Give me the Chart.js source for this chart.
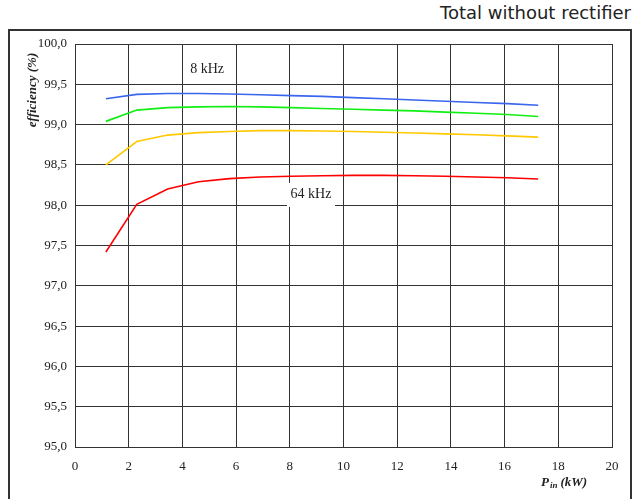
<!DOCTYPE html>
<html>
<head>
<meta charset="utf-8">
<script src="https://cdn.jsdelivr.net/npm/chart.js@4/dist/chart.umd.min.js"></script>
<style>
  html, body { margin:0; padding:0; background:#fff; }
  #wrap { position:relative; width:643px; height:499px; overflow:hidden; }
  #frame { position:absolute; left:8px; top:29px; width:624px; height:480px; border:2px solid #333; box-sizing:border-box; }
  #title { position:absolute; right:12px; top:1px; font-family:"DejaVu Sans", Verdana, sans-serif; font-size:18px; color:#222; line-height:24px; }
  canvas { position:absolute; left:0; top:0; }
</style>
</head>
<body>
<div id="wrap">
  <div id="title">Total without rectifier</div>
  <div id="frame"></div>
  <canvas id="c" width="643" height="499"></canvas>
</div>
<script>
// Data
const pinKW = [1.15, 2.3, 3.45, 4.6, 5.75, 6.9, 8.05, 9.2, 10.35, 11.5, 12.65, 13.8, 14.95, 16.1, 17.25];
const eff8kHz  = [99.32, 99.375, 99.385, 99.385, 99.38, 99.37, 99.36, 99.35, 99.335, 99.32, 99.305, 99.29, 99.275, 99.26, 99.24];
const effGreen = [99.04, 99.18, 99.21, 99.22, 99.225, 99.22, 99.21, 99.20, 99.19, 99.18, 99.17, 99.155, 99.14, 99.125, 99.10];
const effYellow= [98.50, 98.79, 98.87, 98.90, 98.915, 98.925, 98.925, 98.92, 98.915, 98.905, 98.895, 98.885, 98.875, 98.86, 98.845];
const eff64kHz = [97.42, 98.01, 98.20, 98.29, 98.33, 98.35, 98.36, 98.365, 98.37, 98.37, 98.365, 98.36, 98.35, 98.34, 98.325];
const xTicks = [0, 2, 4, 6, 8, 10, 12, 14, 16, 18, 20];
const yTicks = [95.0, 95.5, 96.0, 96.5, 97.0, 97.5, 98.0, 98.5, 99.0, 99.5, 100.0];
const labels = [
  { text: '8 kHz', x: 4.92, y: 99.69, box: false },
  { text: '64 kHz', x: 8.79, y: 98.14, box: true }
];

const toPts = (ys) => pinKW.map((x, i) => ({ x: x, y: ys[i] }));
const serif = '"Liberation Serif", "Times New Roman", serif';

const overlay = {
  id: 'overlay',
  afterDatasetsDraw(chart) {
    const { ctx, scales } = chart;
    ctx.save();
    ctx.font = '14px ' + serif;
    ctx.textAlign = 'center';
    ctx.textBaseline = 'middle';
    labels.forEach(l => {
      const px = scales.x.getPixelForValue(l.x);
      const py = scales.y.getPixelForValue(l.y);
      if (l.box) {
        const w = 48;
        ctx.fillStyle = '#fff';
        ctx.fillRect(px - w / 2, py - 11, w, 24);
      }
      ctx.fillStyle = '#222';
      ctx.fillText(l.text, px, py);
    });
    // y axis title
    ctx.save();
    ctx.translate(33, 90);
    ctx.rotate(-Math.PI / 2);
    ctx.font = 'italic bold 13px ' + serif;
    ctx.fillStyle = '#222';
    ctx.fillText('efficiency (%)', 0, 0);
    ctx.restore();
    // x axis title: P_in (kW)
    ctx.textAlign = 'left';
    ctx.textBaseline = 'alphabetic';
    ctx.fillStyle = '#222';
    let x0 = 541, yb = 486;
    ctx.font = 'italic bold 13px ' + serif;
    ctx.fillText('P', x0, yb);
    x0 += ctx.measureText('P').width + 1;
    ctx.font = 'italic bold 9px ' + serif;
    ctx.fillText('in', x0, yb + 2);
    x0 += ctx.measureText('in').width + 3;
    ctx.font = 'italic bold 13px ' + serif;
    ctx.fillText('(kW)', x0, yb);
    ctx.restore();
  }
};

const ds = (data, color) => ({
  data: toPts(data), borderColor: color, borderWidth: 1.6,
  pointRadius: 0, tension: 0, fill: false
});

new Chart(document.getElementById('c'), {
  type: 'line',
  data: {
    datasets: [
      ds(eff8kHz, '#3a66ee'),
      ds(effGreen, '#11ee11'),
      ds(effYellow, '#ffc800'),
      ds(eff64kHz, '#ff0000')
    ]
  },
  options: {
    responsive: false,
    animation: false,
    devicePixelRatio: 1,
    layout: { padding: { left: 0, right: 31, top: 44, bottom: 0 } },
    plugins: { legend: { display: false }, tooltip: { enabled: false } },
    scales: {
      x: {
        type: 'linear', min: 0, max: 20,
        afterBuildTicks: (s) => { s.ticks = xTicks.map(v => ({ value: v })); },
        afterFit: (s) => { s.height = 52; },
        grid: { color: '#333', lineWidth: 1, drawTicks: false },
        border: { color: '#333', width: 1 },
        ticks: { padding: 12, color: '#222', font: { family: serif, size: 13 }, maxRotation: 0 }
      },
      y: {
        type: 'linear', min: 95, max: 100,
        afterBuildTicks: (s) => { s.ticks = yTicks.map(v => ({ value: v })); },
        afterFit: (s) => { s.width = 75; },
        grid: { color: '#333', lineWidth: 1, drawTicks: false },
        border: { color: '#333', width: 1 },
        ticks: { padding: 8, color: '#222', font: { family: serif, size: 13 },
                 callback: (v) => Number(v).toFixed(1).replace('.', ',') }
      }
    }
  },
  plugins: [overlay]
});
</script>
</body>
</html>
